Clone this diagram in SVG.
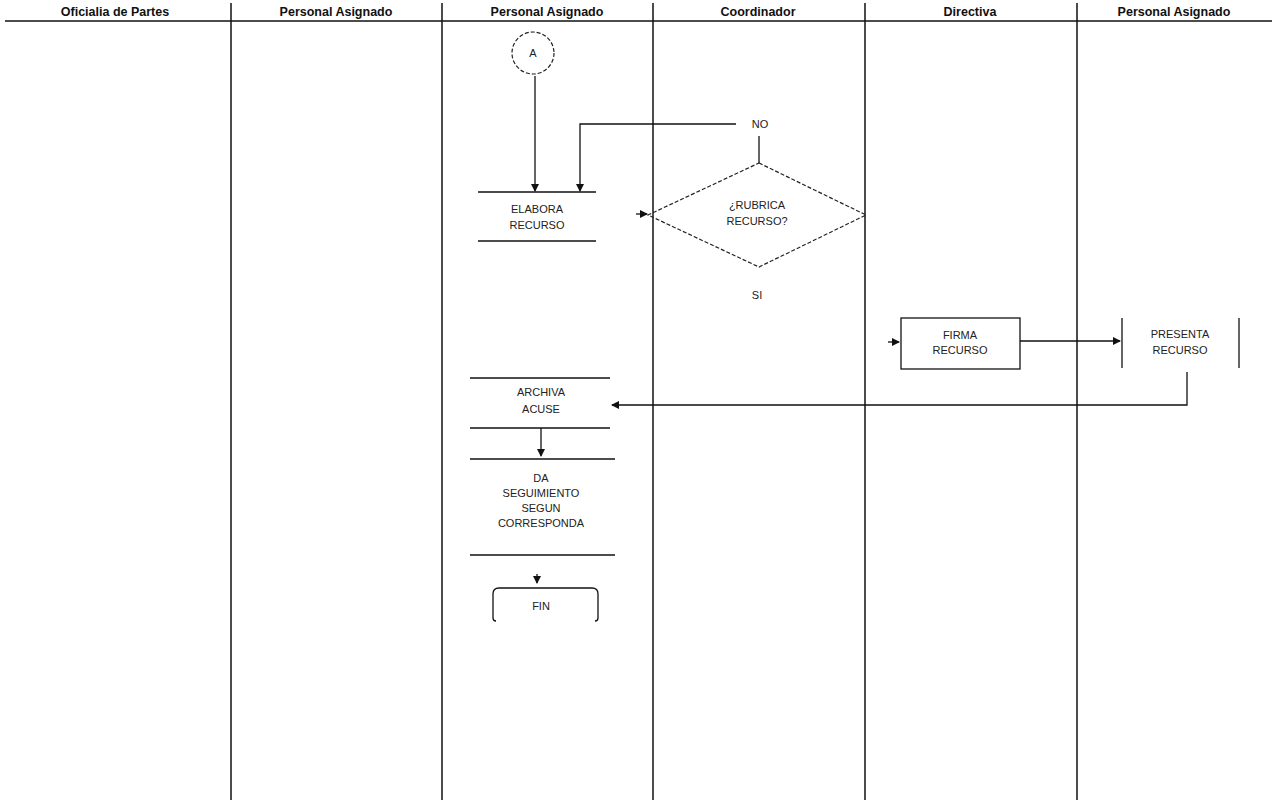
<svg xmlns="http://www.w3.org/2000/svg" width="1272" height="800" viewBox="0 0 1272 800">
<style>
.hdr{font-family:"Liberation Sans",Arial,sans-serif;font-size:12.5px;font-weight:bold;fill:#111;text-anchor:middle}
.t{font-family:"Liberation Sans",Arial,sans-serif;font-size:11px;fill:#222;text-anchor:middle}
.ln{stroke:#111;stroke-width:1.3;fill:none}
.lane{stroke:#111;stroke-width:1.5;fill:none}
.dash{stroke:#222;stroke-width:1.2;fill:none;stroke-dasharray:4,2}
</style>
<defs>
<marker id="ah" markerWidth="8" markerHeight="8" refX="7" refY="4" orient="auto" markerUnits="userSpaceOnUse">
<path d="M0,0 L8,4 L0,8 z" fill="#111"/>
</marker>
</defs>
<rect width="1272" height="800" fill="#fff"/>
<g id="lanes">
<line class="lane" x1="5" y1="21" x2="1272" y2="21"/>
<line class="lane" x1="231" y1="3" x2="231" y2="800"/>
<line class="lane" x1="442" y1="3" x2="442" y2="800"/>
<line class="lane" x1="653" y1="3" x2="653" y2="800"/>
<line class="lane" x1="865" y1="3" x2="865" y2="800"/>
<line class="lane" x1="1077" y1="3" x2="1077" y2="800"/>
<text class="hdr" x="115" y="16">Oficialia de Partes</text>
<text class="hdr" x="336" y="16">Personal Asignado</text>
<text class="hdr" x="547" y="16">Personal Asignado</text>
<text class="hdr" x="758" y="16">Coordinador</text>
<text class="hdr" x="970" y="16">Directiva</text>
<text class="hdr" x="1174" y="16">Personal Asignado</text>
</g>
<g id="connectors">
<line class="ln" x1="535" y1="76" x2="535" y2="191" marker-end="url(#ah)"/>
<polyline class="ln" points="736,124 580,124 580,191" marker-end="url(#ah)"/>
<line class="ln" x1="759" y1="136" x2="759" y2="163"/>
<line class="ln" x1="636" y1="214" x2="647" y2="214" marker-end="url(#ah)"/>
<line class="ln" x1="888" y1="342" x2="899" y2="342" marker-end="url(#ah)"/>
<line class="ln" x1="1020" y1="341" x2="1120" y2="341" marker-end="url(#ah)"/>
<polyline class="ln" points="1187,372 1187,405 612,405" marker-end="url(#ah)"/>
<line class="ln" x1="541" y1="428" x2="541" y2="456" marker-end="url(#ah)"/>
<line class="ln" x1="537" y1="574" x2="537" y2="583" marker-end="url(#ah)"/>
</g>
<g id="nodeA">
<circle class="dash" cx="533" cy="53" r="21"/>
<text class="t" x="533" y="57">A</text>
</g>
<g id="elabora">
<line class="ln" x1="478" y1="192" x2="596" y2="192"/>
<line class="ln" x1="478" y1="241" x2="596" y2="241"/>
<text class="t" x="537" y="213">ELABORA</text>
<text class="t" x="537" y="229">RECURSO</text>
</g>
<g id="no">
<text class="t" x="760" y="128">NO</text>
</g>
<g id="decision">
<polygon class="dash" points="759,163 866,215 759,267 648,215"/>
<text class="t" x="757" y="209">¿RUBRICA</text>
<text class="t" x="757" y="225">RECURSO?</text>
</g>
<g id="si">
<text class="t" x="757" y="299">SI</text>
</g>
<g id="firma">
<rect class="ln" x="901" y="318" width="119" height="51"/>
<text class="t" x="960" y="339">FIRMA</text>
<text class="t" x="960" y="354">RECURSO</text>
</g>
<g id="presenta">
<line class="ln" x1="1122" y1="318" x2="1122" y2="368"/>
<line class="ln" x1="1239" y1="318" x2="1239" y2="368"/>
<text class="t" x="1180" y="338">PRESENTA</text>
<text class="t" x="1180" y="354">RECURSO</text>
</g>
<g id="archiva">
<line class="ln" x1="470" y1="378" x2="610" y2="378"/>
<line class="ln" x1="470" y1="428" x2="610" y2="428"/>
<text class="t" x="541" y="396">ARCHIVA</text>
<text class="t" x="541" y="413">ACUSE</text>
</g>
<g id="seguimiento">
<line class="ln" x1="470" y1="459" x2="615" y2="459"/>
<line class="ln" x1="470" y1="555" x2="615" y2="555"/>
<text class="t" x="541" y="482">DA</text>
<text class="t" x="541" y="497">SEGUIMIENTO</text>
<text class="t" x="541" y="512">SEGUN</text>
<text class="t" x="541" y="527">CORRESPONDA</text>
</g>
<g id="fin">
<path class="ln" d="M499,588 Q493,588 493,594 L493,618 Q493,621 496,621"/>
<path class="ln" d="M592,588 Q598,588 598,594 L598,618 Q598,621 595,621"/>
<line class="ln" x1="499" y1="588" x2="592" y2="588"/>
<text class="t" x="541" y="610">FIN</text>
</g>
</svg>
